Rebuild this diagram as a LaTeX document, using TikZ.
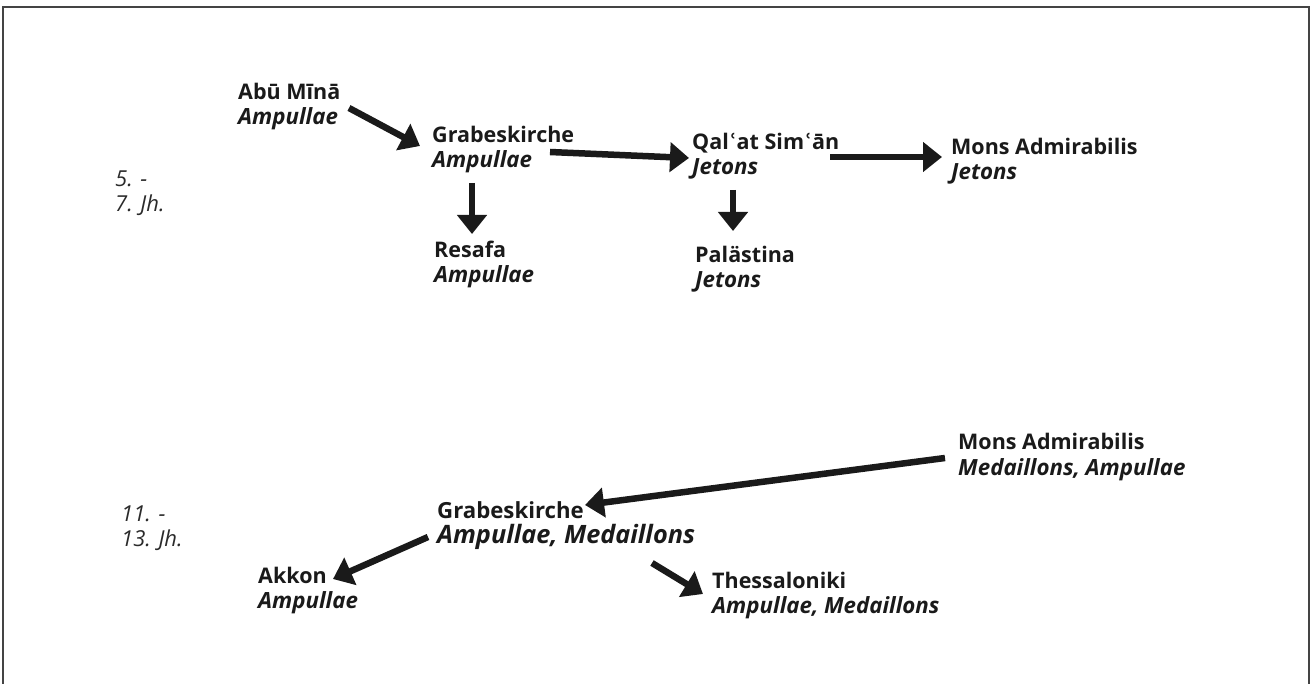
\documentclass[tikz,border=0pt]{standalone}
\usepackage{fontspec}
\setmainfont{Open Sans}
\newfontfamily\ringfont{DejaVu Sans}
\newcommand{\ain}{{\ringfont ʿ}}
\newcommand{\subl}[1]{{\fontsize{22.3}{25}\selectfont\itshape #1}}
\newcommand{\bigsubl}[1]{{\fontsize{25.3}{25}\selectfont\itshape #1}}
\usetikzlibrary{arrows.meta}
\definecolor{ink}{HTML}{1A1A1A}
\definecolor{eracol}{HTML}{2A2A2A}
\definecolor{framecol}{HTML}{444444}
\tikzset{
  place/.style={anchor=base west, align=left, inner sep=0pt, text=ink,
    font=\fontsize{21.5}{25}\selectfont\bfseries},
  bigplace/.style={place, font=\fontsize{22.2}{25}\selectfont\bfseries},
  era/.style={anchor=base west, align=left, inner sep=0pt, text=eracol,
    font=\fontsize{22}{25}\selectfont\itshape},
  arr/.style={draw=ink, line width=6.5pt, -{Triangle[length=19pt,width=29pt]}},
}
\begin{document}
\begin{tikzpicture}[x=1pt,y=-1pt]
\useasboundingbox (0,0) rectangle (1312,684);
\draw[framecol, line width=1.5pt] (3,684) -- (3,7) -- (1309,7) -- (1309,684);

% node coordinates are the baselines of the second lines
\node[era] (era1) at (115,212) {5. -\\7. Jh.};
\node[place] (abu) at (238,125) {Abū Mīnā\\\subl{Ampullae}};
\node[place] (grabA) at (432,168) {Grabeskirche\\\subl{Ampullae}};
\node[place] (qal) at (692,175) {Qal\ain at Sim\ain ān\\\subl{Jetons}};
\node[place] (monsA) at (951,180) {Mons Admirabilis\\\subl{Jetons}};
\node[place] (resafa) at (434,283) {Resafa\\\subl{Ampullae}};
\node[place] (pal) at (695,288) {Palästina\\\subl{Jetons}};

\node[era] (era2) at (121,546) {11. -\\13. Jh.};
\node[place] (monsB) at (958,475) {Mons Admirabilis\\\subl{Medaillons, Ampullae}};
\node[bigplace] (grabB) at (437,543) {Grabeskirche\\\bigsubl{Ampullae, Medaillons}};
\node[place] (akkon) at (258,608) {Akkon\\\subl{Ampullae}};
\node[place] (thess) at (712,613) {Thessaloniki\\\subl{Ampullae, Medaillons}};

% connectors
\draw[arr] ([shift={(111,-17)}]abu.base west) -- ([shift={(-12,-22)}]grabA.base west);
\draw[arr] ([shift={(118,-16)}]grabA.base west) -- ([shift={(-3,-17)}]qal.base west);
\draw[arr] ([shift={(138,-18)}]qal.base west) -- ([shift={(-9,-23)}]monsA.base west);
\draw[arr] ([shift={(41,15)}]qal.base west) -- ([shift={(38,-57)}]pal.base west);
\draw[arr] ([shift={(40,15)}]grabA.base west) -- ([shift={(38,-49)}]resafa.base west);
\draw[arr] ([shift={(-13,-17)}]monsB.base west) -- ([shift={(148,-38)}]grabB.base west);
\draw[arr] ([shift={(-9,-6)}]grabB.base west) -- ([shift={(75,-29)}]akkon.base west);
\draw[arr] ([shift={(215,20)}]grabB.base west) -- ([shift={(-9,-19)}]thess.base west);
\end{tikzpicture}
\end{document}
